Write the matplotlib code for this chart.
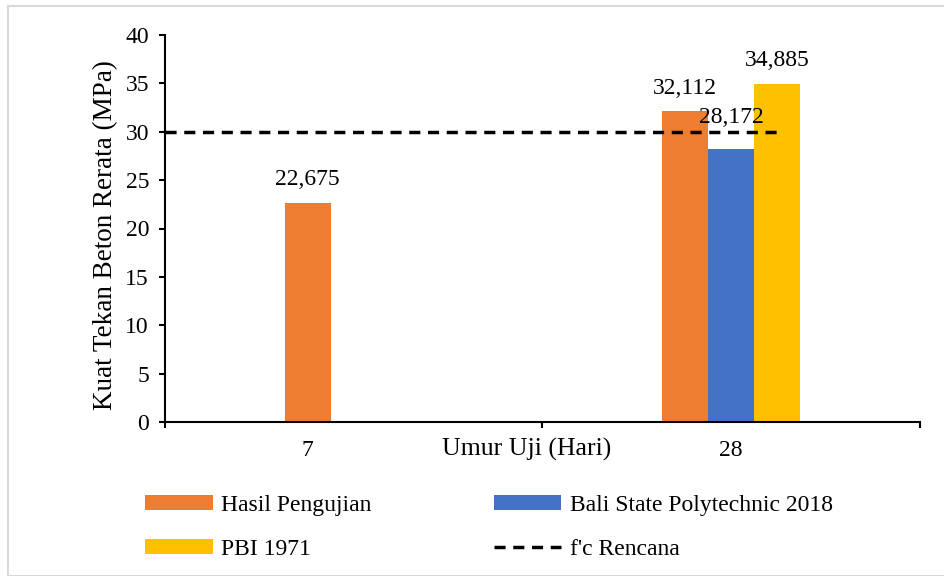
import matplotlib.pyplot as plt
import numpy as np
from matplotlib.patches import Rectangle

# Data
categories = ['7', '28']
hasil = [22.675, 32.112]
bali = [np.nan, 28.172]
pbi = [np.nan, 34.885]
fc_rencana = 30

plt.rcParams['font.family'] = ['Liberation Serif', 'DejaVu Serif']
FS = 17

fig = plt.figure(figsize=(9.45, 5.76), dpi=100)
# light frame round the chart area
fig.patches.append(Rectangle((8 / 945, 0.0), 940 / 945, 1 - 6 / 576, transform=fig.transFigure,
                             fill=False, edgecolor='#d9d9d9', linewidth=1.5))
ax = fig.add_axes([165 / 945, 1 - 422 / 576, 755 / 945, 387 / 576])

x = np.arange(len(categories))
w = 0.122
b1 = ax.bar(x - w, hasil, w, color='#ED7D31', label='Hasil Pengujian')
b2 = ax.bar(x, bali, w, color='#4472C4', label='Bali State Polytechnic 2018')
b3 = ax.bar(x + w, pbi, w, color='#FFC000', label='PBI 1971')
ln, = ax.plot([-0.5, 1.13], [fc_rencana, fc_rencana], color='black', lw=2.5,
              dashes=(3.2, 2.2), label="f'c Rencana")

# value labels (comma decimal)
for bars, vals, dy in [(b1, hasil, 2.4), (b2, bali, 3.3), (b3, pbi, 2.5)]:
    for rect, v in zip(bars, vals):
        if np.isnan(v):
            continue
        ax.text(rect.get_x() + rect.get_width() / 2, v + dy, f'{v:.3f}'.replace('.', ','),
                ha='center', va='center', fontsize=FS)

ax.set_xlim(-0.5, 1.5)
ax.set_ylim(0, 40)
ax.set_yticks(range(0, 41, 5))
ax.set_xticks([-0.5, 0.5, 1.5])
ax.set_xticklabels([])
# category labels
for xi, lab in zip([x[0] - w, x[1]], categories):
    ax.text(xi, -2.9, lab, ha='center', va='center', fontsize=FS)

ax.tick_params(axis='both', labelsize=FS, width=1.5, length=4.5, direction='out', pad=7)
ax.spines['top'].set_visible(False)
ax.spines['right'].set_visible(False)
ax.spines['left'].set_linewidth(1.5)
ax.spines['bottom'].set_linewidth(1.5)

# axis titles
ax.text(-0.079, 0.483, 'Kuat Tekan Beton Rerata (MPa)', transform=ax.transAxes, rotation=90,
        ha='center', va='center', fontsize=19.5)
ax.text(0.479, -0.07, 'Umur Uji (Hari)', transform=ax.transAxes, ha='center', va='center',
        fontsize=18.5)

fig.legend([b1, b3, b2, ln], ['Hasil Pengujian', 'PBI 1971', 'Bali State Polytechnic 2018', "f'c Rencana"],
           ncol=2, loc='upper left', bbox_to_anchor=(124 / 945, 1 - 474 / 576), frameon=False,
           fontsize=FS, handlelength=2.85, handleheight=0.6, labelspacing=0.95,
           columnspacing=5.2, handletextpad=0.35)

fig.savefig('out.png', dpi=100)
